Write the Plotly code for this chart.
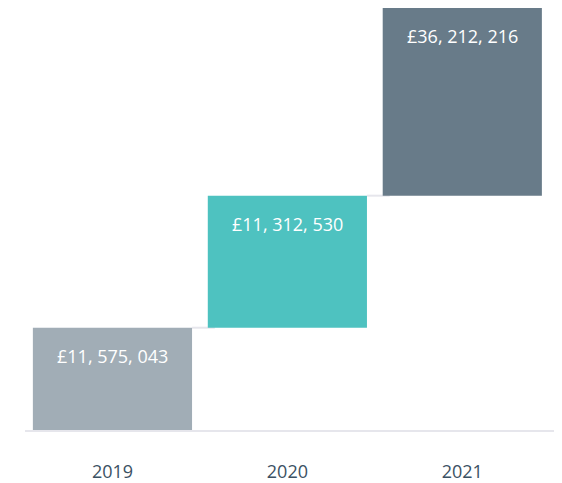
import plotly.graph_objects as go

years = ["2019", "2020", "2021"]
amounts = [11575043, 11312530, 36212216]
# visual step heights (arbitrary display units)
step_heights = [103, 133, 189]
colors = ["#a1adb6", "#4ec2c0", "#687b89"]

labels = ["£" + ", ".join(f"{a:,}".split(",")) for a in amounts]

bases = []
acc = 0
for h in step_heights:
    bases.append(acc)
    acc += h
tops = [b + h for b, h in zip(bases, step_heights)]

bar_w = 0.91
fig = go.Figure(go.Bar(
    x=list(range(len(years))), y=step_heights, base=bases,
    marker=dict(color=colors, line=dict(width=0)),
    width=bar_w, hoverinfo="skip",
))

shapes = []
for i in range(len(years) - 1):
    shapes.append(dict(type="line", xref="x", yref="y",
                       x0=i + bar_w / 2, x1=i + 1 - bar_w / 2 + 0.04,
                       y0=tops[i], y1=tops[i],
                       line=dict(color="#e6e6ec", width=2), layer="below"))

annotations = []
for i, (t, lab) in enumerate(zip(tops, labels)):
    annotations.append(dict(x=i, y=t, xref="x", yref="y", text=lab,
                            showarrow=False, yanchor="top", yshift=-14,
                            font=dict(family="Open Sans", size=18, color="#ffffff")))

# page body adds an 8px margin, so the figure is 8px smaller than the window
fig.update_layout(
    width=554, height=475,
    margin=dict(l=17, r=7, t=0, b=51),
    paper_bgcolor="white", plot_bgcolor="white",
    showlegend=False,
    shapes=shapes, annotations=annotations,
    xaxis=dict(tickmode="array", tickvals=list(range(len(years))), ticktext=years,
               range=[-0.5, len(years) - 0.47], showgrid=False, zeroline=False,
               showline=True, linecolor="#e6e6ec", linewidth=2,
               ticks="", ticklabelstandoff=24,
               tickfont=dict(family="Open Sans", size=18, color="#3b5163")),
    yaxis=dict(range=[0, sum(step_heights)], visible=False, showgrid=False, zeroline=False),
)

fig.write_html("out.html")
